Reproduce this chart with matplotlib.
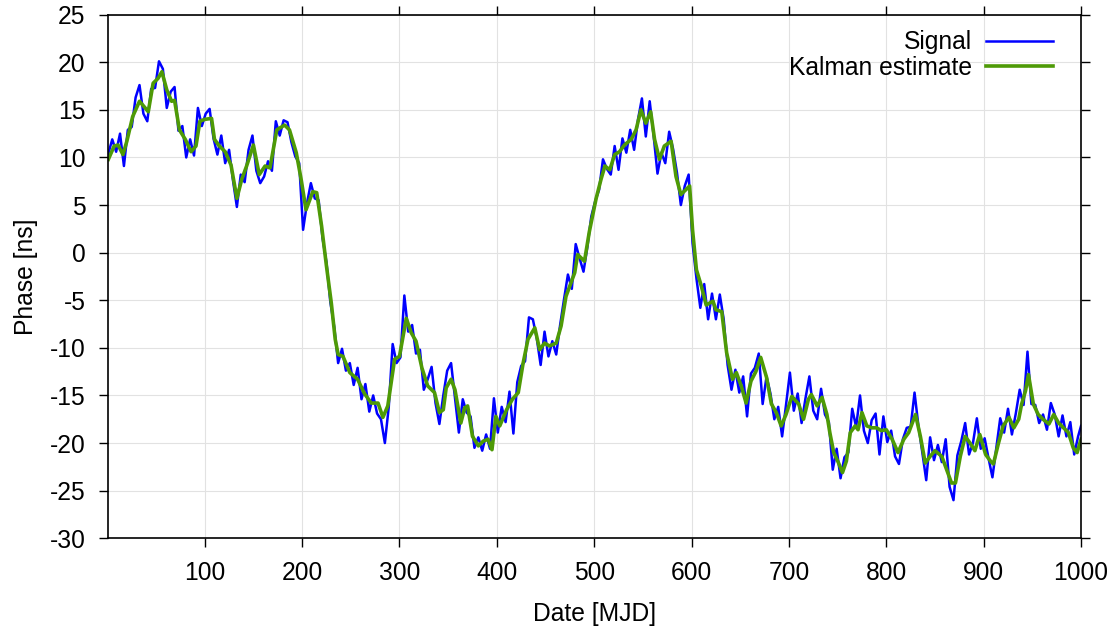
import numpy as np
import matplotlib
matplotlib.use("Agg")
import matplotlib.pyplot as plt

plt.rcParams['font.family'] = ['Liberation Sans', 'DejaVu Sans']
plt.rcParams['axes.unicode_minus'] = False

# Measured phase, sampled every 4 days (plus the final day)
signal_mjd = np.append(np.arange(1, 1000, 4), 1000)
signal_phase = [
    10.4, 11.9, 10.6, 12.5, 9.1, 12.9, 13.2, 16.3, 17.6, 14.6,
    13.8, 17.2, 17.3, 20.1, 19.3, 15.2, 16.9, 17.4, 12.8, 13.3,
    10.0, 11.9, 10.2, 15.2, 13.3, 14.6, 15.1, 12.0, 10.3, 12.3,
    9.4, 10.8, 7.6, 4.8, 8.2, 7.4, 10.8, 12.3, 8.6, 7.3,
    8.0, 9.6, 8.6, 13.8, 12.3, 13.9, 13.7, 11.6, 10.1, 9.4,
    2.4, 5.2, 7.3, 5.7, 5.5, 1.5, -1.0, -5.2, -7.8, -11.6,
    -10.1, -12.4, -11.6, -13.9, -12.1, -15.4, -13.8, -16.7, -15.0, -16.9,
    -17.5, -20.0, -16.2, -9.6, -11.6, -11.0, -4.5, -8.3, -7.6, -10.6,
    -10.2, -14.4, -13.3, -12.0, -15.8, -18.0, -15.0, -12.4, -11.6, -15.2,
    -18.9, -15.4, -16.8, -17.2, -20.5, -19.4, -20.8, -19.1, -20.6, -15.3,
    -18.9, -16.2, -17.8, -14.6, -19.0, -13.6, -11.9, -11.4, -6.8, -7.0,
    -9.0, -11.8, -8.3, -10.9, -9.3, -10.7, -7.6, -4.9, -2.3, -3.8,
    0.9, -0.6, -2.0, 0.6, 3.8, 5.4, 6.6, 9.8, 8.8, 8.2,
    11.2, 8.7, 12.0, 10.5, 12.9, 10.8, 14.0, 16.2, 12.2, 15.9,
    12.3, 8.3, 10.5, 9.4, 12.7, 10.9, 8.4, 5.0, 7.0, 8.2,
    1.0, -2.7, -5.8, -3.3, -7.0, -4.3, -7.0, -4.4, -7.0, -11.8,
    -14.4, -12.3, -14.7, -13.0, -17.2, -12.7, -12.1, -10.6, -15.9, -13.0,
    -14.8, -17.5, -16.2, -19.3, -16.0, -12.6, -16.6, -14.8, -17.9, -15.3,
    -13.0, -16.6, -17.5, -14.3, -17.0, -17.8, -22.8, -20.6, -23.7, -21.5,
    -21.0, -16.4, -18.3, -15.0, -18.7, -20.0, -17.6, -16.9, -21.2, -17.2,
    -19.9, -18.7, -21.4, -22.2, -19.6, -18.4, -18.3, -14.7, -18.2, -21.0,
    -23.9, -19.4, -21.8, -20.2, -22.0, -19.6, -24.6, -26.0, -21.3, -19.8,
    -17.9, -21.2, -20.0, -17.4, -20.6, -19.5, -21.6, -23.6, -20.5, -17.4,
    -18.9, -16.4, -19.1, -16.9, -14.4, -16.0, -10.4, -15.9, -16.0, -17.9,
    -17.0, -18.6, -15.8, -17.0, -19.3, -17.1, -19.3, -17.8, -21.2, -19.3,
    -18.2,
]

# Filtered phase from the Kalman estimator
kalman_mjd = [
    1, 7, 11, 16, 20, 26, 33, 38, 42, 47, 52, 56, 61, 66, 69, 74, 80, 86, 91, 95,
    100, 107, 110, 115, 121, 127, 133, 138, 143, 150, 156, 162, 167, 174, 182, 187,
    194, 199, 204, 211, 215, 220, 225, 230, 234, 237, 242, 249, 257, 264, 271, 278,
    283, 288, 295, 300, 307, 312, 317, 323, 329, 336, 341, 345, 348, 353, 357, 363,
    367, 370, 375, 381, 386, 391, 395, 399, 403, 410, 416, 422, 427, 432, 439, 444,
    449, 454, 461, 466, 471, 475, 480, 483, 490, 495, 502, 507, 511, 516, 521, 526,
    531, 538, 543, 548, 553, 558, 562, 567, 572, 579, 584, 589, 594, 598, 601, 605,
    610, 615, 622, 625, 631, 636, 642, 646, 651, 656, 661, 666, 671, 677, 682, 687,
    692, 697, 703, 710, 715, 720, 723, 729, 734, 739, 742, 746, 751, 755, 759, 763,
    768, 771, 775, 780, 785, 790, 795, 800, 806, 812, 818, 823, 830, 835, 840, 845,
    850, 857, 862, 867, 871, 876, 881, 886, 891, 896, 902, 907, 910, 915, 920, 926,
    931, 936, 939, 943, 946, 951, 956, 961, 967, 972, 977, 982, 987, 992, 996, 1000,
]
kalman_phase = [
    9.8, 11.2, 11.3, 10.3, 11.7, 14.3, 15.9, 15.3, 14.8, 17.8, 18.3, 19.0, 17.1, 15.9,
    16.0, 12.9, 11.9, 10.6, 11.2, 13.8,
    14.0, 14.1, 11.9, 11.2, 10.6, 9.2, 5.7, 7.7, 9.1, 11.3, 8.2, 9.1, 8.9, 12.9, 13.4,
    12.9,
    10.5, 7.7, 4.5, 6.4, 6.3, 2.8, -1.4, -5.3, -9.1, -10.7, -10.9, -12.6, -13.3, -14.8,
    -15.8, -15.8,
    -17.3, -16.1, -11.2, -10.9, -6.9, -8.4, -9.3, -12.1, -14.0, -14.7, -16.8, -16.5,
    -14.2, -13.3, -14.4, -17.9,
    -16.3, -16.1, -19.3, -20.3, -19.8, -19.6, -20.7, -17.2, -18.2, -16.5, -15.4, -14.7,
    -11.6, -9.1, -7.9, -10.2,
    -9.5, -9.8, -9.5, -7.7, -4.6, -3.5, -2.1, -0.2, -0.9, 2.2, 5.7, 7.7, 9.1, 8.7,
    10.3, 10.6,
    11.3, 11.9, 12.9, 15.0, 13.6, 14.8, 11.9, 9.8, 11.2, 11.7, 8.0, 6.1, 6.6, 7.0,
    2.4, -1.8,
    -3.5, -5.5, -5.1, -6.0, -6.2, -10.5, -13.3, -12.6, -14.0, -15.8, -13.5, -12.5,
    -11.0, -13.1, -15.9, -16.8,
    -18.2, -17.0, -15.1, -15.9, -17.5, -15.4, -14.9, -16.1, -15.2, -17.0, -18.9, -21.0,
    -22.1, -23.1, -21.9, -18.9,
    -18.2, -18.6, -16.8, -18.2, -18.4, -18.4, -18.7, -18.6, -19.6, -21.0, -19.6, -18.9,
    -17.0, -19.3, -22.1, -21.4,
    -20.8, -21.4, -22.8, -24.2, -24.2, -21.4, -19.3, -20.0, -20.8, -19.1, -21.2, -21.9,
    -22.2, -20.1, -18.2, -17.3,
    -18.4, -17.5, -15.9, -14.5, -12.8, -15.9, -17.0, -17.5, -18.0, -17.0, -17.9, -18.4,
    -18.9, -20.5, -21.0, -19.6,
]

x_ticks = list(range(100, 1001, 100))
y_ticks = list(range(-30, 26, 5))

fig = plt.figure(figsize=(11.17, 6.31), dpi=100)
ax = fig.add_axes([0.097, 0.147, 0.8708, 0.8298])

ax.plot(signal_mjd, signal_phase, color='#0000ff', lw=1.8, label='Signal')
ax.plot(kalman_mjd, kalman_phase, color='#4e9a06', lw=2.6, label='Kalman estimate')

ax.set_xlim(1, 1000)
ax.set_ylim(-30, 25)
ax.set_xticks(x_ticks)
ax.set_yticks(y_ticks)
ax.tick_params(direction='out', length=6.5, width=1.0, top=True, right=True,
               labelsize=17.7, pad=10)
ax.grid(color='#e2e2e2', lw=0.8)
ax.set_axisbelow(True)
for s in ax.spines.values():
    s.set_linewidth(1.2)

ax.set_xlabel('Date [MJD]', fontsize=17.7, labelpad=12)
ax.set_ylabel('Phase [ns]', fontsize=17.7, labelpad=8)

ax.legend(loc='upper right', bbox_to_anchor=(0.971, 0.970), frameon=False,
          markerfirst=False, fontsize=17.7, handlelength=2.7, handletextpad=0.6,
          labelspacing=0.05, borderaxespad=0, borderpad=0)

fig.savefig('out.png', dpi=100)
